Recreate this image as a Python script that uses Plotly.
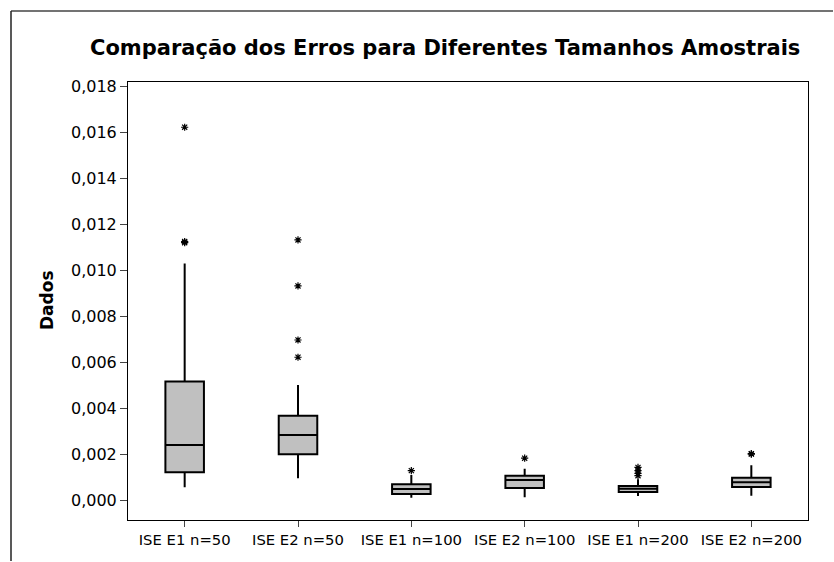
import plotly.graph_objects as go

categories = ["ISE E1 n=50", "ISE E2 n=50", "ISE E1 n=100", "ISE E2 n=100", "ISE E1 n=200", "ISE E2 n=200"]
q1 = [0.00122, 0.00200, 0.00027, 0.00053, 0.00036, 0.00058]
median = [0.00240, 0.00284, 0.00049, 0.00088, 0.00050, 0.00078]
q3 = [0.00516, 0.00368, 0.00070, 0.00107, 0.00062, 0.00098]
lower_whisker = [0.00057, 0.00096, 0.00011, 0.00013, 0.00019, 0.00020]
upper_whisker = [0.01030, 0.00501, 0.00110, 0.00137, 0.00092, 0.00152]
outliers = {
    "ISE E1 n=50": [0.01622, 0.01125, 0.01120],
    "ISE E2 n=50": [0.01132, 0.00932, 0.00697, 0.00622],
    "ISE E1 n=100": [0.00129],
    "ISE E2 n=100": [0.00183],
    "ISE E1 n=200": [0.00143, 0.00129, 0.00117, 0.00107],
    "ISE E2 n=200": [0.00203, 0.00201],
}
y_ticks = [0.000, 0.002, 0.004, 0.006, 0.008, 0.010, 0.012, 0.014, 0.016, 0.018]

W, H = 834, 562
L, R, T, B = 128, 808, 82, 520


def px_x(p):
    return (p - L) / (R - L)


def px_y(p):
    return (B - p) / (B - T)


fig = go.Figure()
fig.add_trace(go.Box(
    x=categories, q1=q1, median=median, q3=q3,
    lowerfence=lower_whisker, upperfence=upper_whisker,
    fillcolor="#C0C0C0", line=dict(color="black", width=2),
    boxpoints=False, whiskerwidth=0, showlegend=False, hoverinfo="skip",
))

ox, oy = [], []
for c in categories:
    for v in outliers[c]:
        ox.append(c)
        oy.append(v)
fig.add_trace(go.Scatter(
    x=ox, y=oy, mode="markers", showlegend=False,
    marker=dict(symbol="asterisk-open", size=6, color="black",
                line=dict(color="#111", width=1.2)),
))

fig.update_layout(
    width=W, height=H,
    margin=dict(l=L, r=W - R, t=T, b=H - B),
    paper_bgcolor="white", plot_bgcolor="white",
    separators=",.",
    boxgap=0.66, boxgroupgap=0,
    font=dict(family="DejaVu Sans", color="black"),
    xaxis=dict(
        type="category", categoryorder="array", categoryarray=categories,
        range=[-0.5, 5.5], showline=True, linecolor="black", linewidth=1,
        mirror=True, ticks="outside", ticklen=6, tickcolor="#444",
        showgrid=False, zeroline=False, tickfont=dict(size=14.8),
    ),
    yaxis=dict(
        range=[-0.000857, 0.018187], tickvals=y_ticks, tickformat=".3f",
        showline=True, linecolor="black", linewidth=1, mirror=True,
        ticks="outside", ticklen=7, tickcolor="#444",
        showgrid=False, zeroline=False, tickfont=dict(size=16),
    ),
    annotations=[
        dict(text="<b>Comparação dos Erros para Diferentes Tamanhos Amostrais</b>",
             xref="paper", yref="paper", x=px_x(445), y=px_y(48),
             xanchor="center", yanchor="middle", showarrow=False,
             font=dict(size=21, family="DejaVu Sans")),
        dict(text="<b>Dados</b>", xref="paper", yref="paper",
             x=px_x(47), y=px_y(300), xanchor="center", yanchor="middle",
             textangle=-90, showarrow=False, font=dict(size=17)),
    ],
    shapes=[
        dict(type="line", xref="paper", yref="paper",
             x0=px_x(11), x1=px_x(833), y0=px_y(11), y1=px_y(11),
             line=dict(color="#444", width=1.5)),
        dict(type="line", xref="paper", yref="paper",
             x0=px_x(11), x1=px_x(11), y0=px_y(11), y1=px_y(561),
             line=dict(color="#222", width=1.5)),
    ],
)

fig.write_html("out.html", config={"displayModeBar": False})
